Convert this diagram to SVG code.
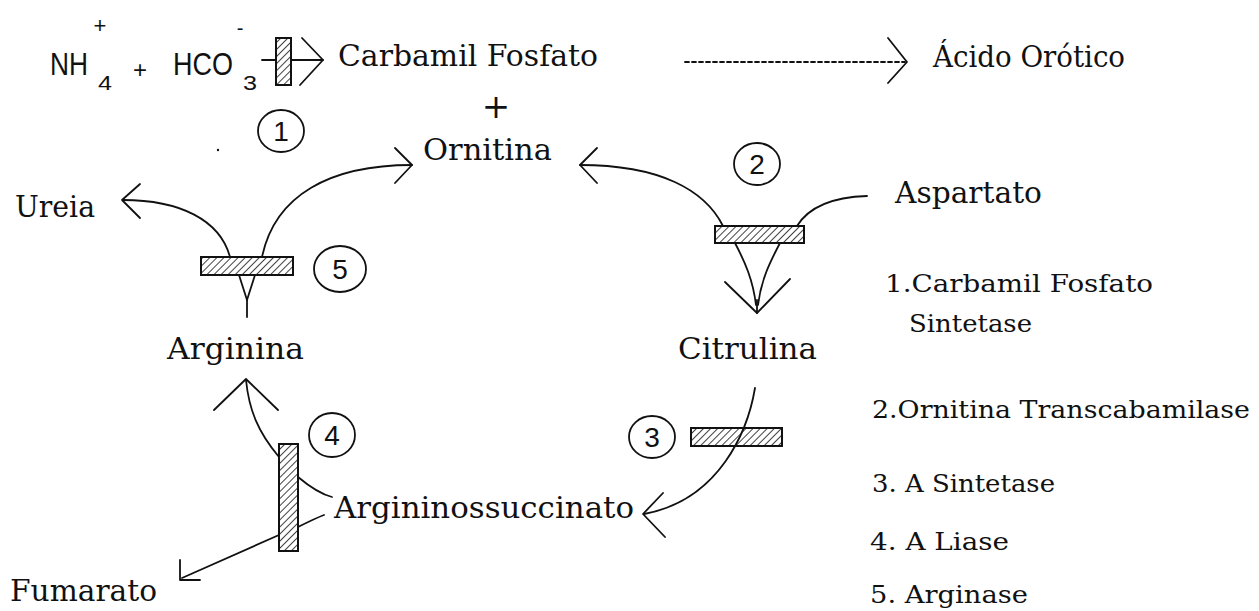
<svg xmlns="http://www.w3.org/2000/svg" width="1259" height="611" viewBox="0 0 1259 611">
<style>
.ser{font-family:"DejaVu Serif","Liberation Serif",serif;fill:#111;}
.lbl{font-size:30px;}
.leg{font-size:25px;}
.sans{font-family:"Liberation Sans","DejaVu Sans",sans-serif;fill:#111;}
.num{font-family:"Liberation Sans","DejaVu Sans",sans-serif;font-size:28px;fill:#111;text-anchor:middle;}
.ln{fill:none;stroke:#111;stroke-width:1.8;stroke-linecap:round;stroke-linejoin:round;}
.bar{fill:url(#hatch);stroke:#111;stroke-width:2;}
.ring{fill:none;stroke:#111;stroke-width:1.8;}
</style>
<defs>
<pattern id="hatch" patternUnits="userSpaceOnUse" width="5" height="5" patternTransform="rotate(45)">
<rect width="5" height="5" fill="#fff"/>
<line x1="0" y1="0" x2="0" y2="5" stroke="#111" stroke-width="1.6"/>
</pattern>
</defs>
<rect width="1259" height="611" fill="#fff"/>

<g id="reactants">
<text class="sans" x="50" y="75" font-size="31" textLength="38" lengthAdjust="spacingAndGlyphs">NH</text>
<text class="sans" x="100" y="33" font-size="22" text-anchor="middle">+</text>
<text class="sans" x="98" y="90" font-size="21" textLength="14" lengthAdjust="spacingAndGlyphs">4</text>
<text class="sans" x="140" y="78" font-size="24" text-anchor="middle">+</text>
<text class="sans" x="173" y="75" font-size="31" textLength="60" lengthAdjust="spacingAndGlyphs">HCO</text>
<text class="sans" x="240" y="35" font-size="20" text-anchor="middle">-</text>
<text class="sans" x="243" y="90" font-size="21" textLength="14" lengthAdjust="spacingAndGlyphs">3</text>
</g>

<g id="carbamil-fosfato">
<text class="ser lbl" x="338" y="66" textLength="260" lengthAdjust="spacingAndGlyphs">Carbamil Fosfato</text>
<text class="ser" x="496" y="118" font-size="34" text-anchor="middle">+</text>
</g>
<g id="ornitina"><text class="ser lbl" x="423" y="160" textLength="129" lengthAdjust="spacingAndGlyphs">Ornitina</text></g>
<g id="acido-orotico"><text class="ser lbl" x="933" y="67" textLength="192" lengthAdjust="spacingAndGlyphs">Ácido Orótico</text></g>
<g id="ureia"><text class="ser lbl" x="15" y="217" textLength="80" lengthAdjust="spacingAndGlyphs">Ureia</text></g>
<g id="aspartato"><text class="ser lbl" x="895" y="203" textLength="147" lengthAdjust="spacingAndGlyphs">Aspartato</text></g>
<g id="arginina"><text class="ser lbl" x="167" y="359" textLength="137" lengthAdjust="spacingAndGlyphs">Arginina</text></g>
<g id="citrulina"><text class="ser lbl" x="678" y="359" textLength="139" lengthAdjust="spacingAndGlyphs">Citrulina</text></g>
<g id="argininossuccinato"><text class="ser lbl" x="334" y="518" textLength="300" lengthAdjust="spacingAndGlyphs">Argininossuccinato</text></g>
<g id="fumarato"><text class="ser lbl" x="10" y="601" textLength="147" lengthAdjust="spacingAndGlyphs">Fumarato</text></g>

<g id="step1"><ellipse class="ring" cx="281" cy="131" rx="23" ry="21"/><text class="num" x="281" y="141">1</text></g>
<g id="step2"><ellipse class="ring" cx="757" cy="164" rx="23" ry="21"/><text class="num" x="757" y="174">2</text></g>
<g id="step3"><ellipse class="ring" cx="652" cy="437" rx="23" ry="21"/><text class="num" x="652" y="447">3</text></g>
<g id="step4"><ellipse class="ring" cx="332" cy="435" rx="23" ry="22"/><text class="num" x="332" y="445">4</text></g>
<g id="step5"><ellipse class="ring" cx="340" cy="269" rx="26" ry="23"/><text class="num" x="340" y="279">5</text></g>

<g id="legend">
<text class="ser leg" x="885" y="292" textLength="268" lengthAdjust="spacingAndGlyphs">1.Carbamil Fosfato</text>
<text class="ser leg" x="909" y="332" textLength="123" lengthAdjust="spacingAndGlyphs">Sintetase</text>
<text class="ser leg" x="872" y="418" textLength="378" lengthAdjust="spacingAndGlyphs">2.Ornitina Transcabamilase</text>
<text class="ser leg" x="872" y="492" textLength="183" lengthAdjust="spacingAndGlyphs">3. A Sintetase</text>
<text class="ser leg" x="870" y="550" textLength="139" lengthAdjust="spacingAndGlyphs">4.  A Liase</text>
<text class="ser leg" x="870" y="603" textLength="158" lengthAdjust="spacingAndGlyphs">5. Arginase</text>
</g>

<g id="connectors">
<path class="ln" d="M262,60 L323,60"/>
<rect class="bar" x="276" y="38" width="15" height="47"/>
<polyline class="ln" points="302,38 323,60 300,85"/>
<path class="ln" d="M685,62 L905,62" stroke-dasharray="4,3" stroke-linecap="butt"/>
<polyline class="ln" points="888,38 907,62 888,83"/>
<path class="ln" d="M262,257 C275,195 330,165 412,165"/>
<polyline class="ln" points="395,148 412,165 395,183"/>
<path class="ln" d="M230,257 C220,220 180,200 123,200"/>
<polyline class="ln" points="140,184 122,200 140,218"/>
<rect class="bar" x="201" y="257" width="92" height="18"/>
<polyline class="ln" points="239,275 247,300 255,275"/>
<path class="ln" d="M247,300 L247,317"/>
<path class="ln" d="M723,226 C705,190 660,165 580,165"/>
<polyline class="ln" points="597,148 580,165 597,183"/>
<path class="ln" d="M797,226 C810,205 835,197 867,196"/>
<rect class="bar" x="715" y="226" width="89" height="17"/>
<path class="ln" d="M735,243 C745,262 753,280 756,305"/>
<path class="ln" d="M780,243 C770,262 761,280 758,305"/>
<path class="ln" d="M757,300 L757,313"/>
<polyline class="ln" points="725,282 757,313 790,279"/>
<rect class="bar" x="691" y="428" width="91" height="18"/>
<path class="ln" d="M755,388 C748,430 720,500 644,514"/>
<polyline class="ln" points="663,493 643,514 665,537"/>
<rect class="bar" x="279" y="444" width="19" height="107"/>
<path class="ln" d="M279,457 C258,432 249,410 246,380"/>
<polyline class="ln" points="214,410 246,379 278,410"/>
<path class="ln" d="M298,477 C310,487 320,494 332,497"/>
<path class="ln" d="M298,527 C308,522 316,518 324,515"/>
<path class="ln" d="M279,535 L182,578"/>
<polyline class="ln" points="180,560 180,580 200,580"/>
<circle cx="218" cy="150" r="1.2" fill="#111"/>
</g>
</svg>
